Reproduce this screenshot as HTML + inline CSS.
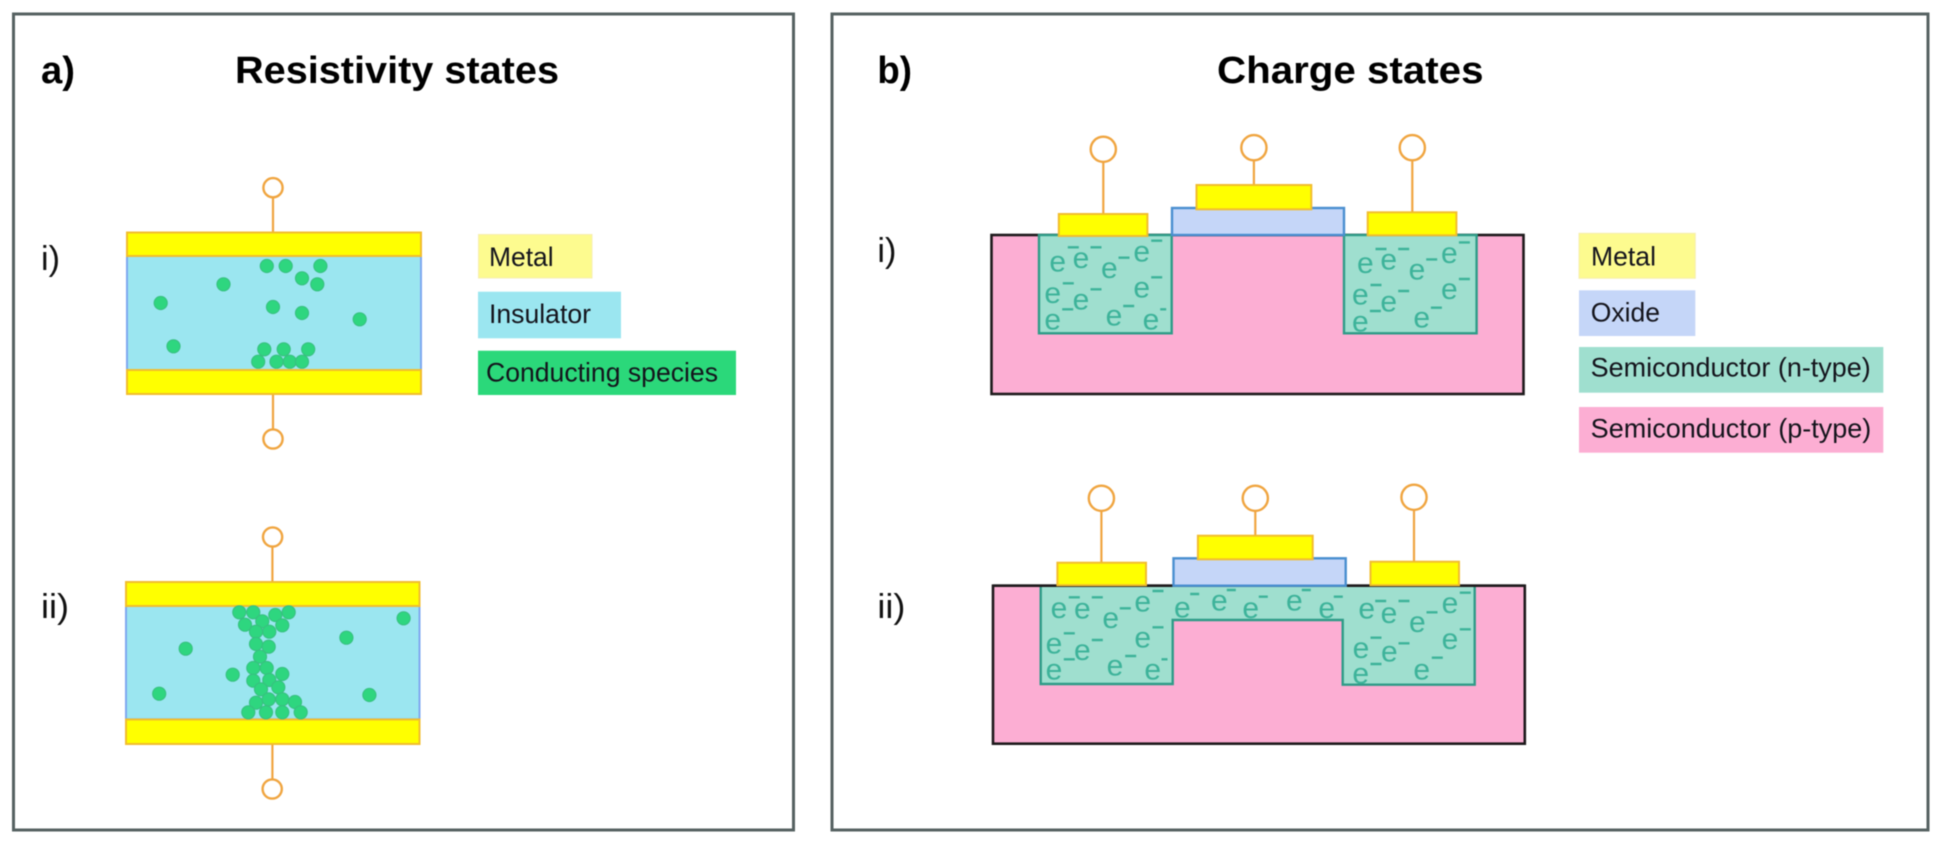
<!DOCTYPE html>
<html><head><meta charset="utf-8"><style>
html,body{margin:0;padding:0;background:#fff;width:1940px;height:844px;overflow:hidden}
svg{display:block;filter:blur(.6px)}
text{font-family:"Liberation Sans",sans-serif}
.h{font-weight:bold;font-size:38px;fill:#000}
.r{font-size:34px;fill:#111}
.l{font-size:26.5px;fill:#14141c}
.m{fill:#ffff00;stroke:#f2bd2e;stroke-width:2}
.w{fill:#fff;stroke:#f0a540;stroke-width:2.4}
.wl{stroke:#f0a540;stroke-width:2.2;fill:none}
.d circle{fill:#2ed67f;stroke:#38bf80;stroke-width:1}
.e{font-size:30px;fill:#3db39a;text-anchor:middle}
.dd{stroke:#3db39a;stroke-width:2.4;fill:none}
.n{fill:#9fdfcf;stroke:#2f9c88;stroke-width:2.4}
.o{fill:#c5d6f8;stroke:#4a8fd0;stroke-width:2.4}
.p{fill:#fcaed3;stroke:#1e1a1c;stroke-width:2.6}
</style></head><body>
<svg width="1940" height="844" viewBox="0 0 1940 844" xmlns="http://www.w3.org/2000/svg">
<rect width="1940" height="844" fill="#fff"/>
<rect x="13.5" y="14" width="780" height="816" fill="#fff" stroke="#566262" stroke-width="3"/>
<rect x="832" y="14" width="1096" height="816" fill="#fff" stroke="#566262" stroke-width="3"/>

<text class="h" x="41" y="83" textLength="34" lengthAdjust="spacingAndGlyphs">a)</text>
<text class="h" x="235" y="83" textLength="324" lengthAdjust="spacingAndGlyphs">Resistivity states</text>
<text class="r" x="41" y="270" textLength="19" lengthAdjust="spacingAndGlyphs">i)</text>
<text class="r" x="41" y="618" textLength="28" lengthAdjust="spacingAndGlyphs">ii)</text>

<!-- a-i -->
<path class="wl" d="M273 197V232M273 394V429"/>
<circle class="w" cx="273" cy="187.7" r="9.6"/>
<circle class="w" cx="273" cy="439" r="9.6"/>
<rect x="127" y="256" width="294" height="114" fill="#9be6f0" stroke="#7fa8f0" stroke-width="2"/>
<rect class="m" x="127" y="232.5" width="294" height="23.5"/>
<rect class="m" x="127" y="370" width="294" height="24"/>
<g class="d">
<circle cx="266.8" cy="266" r="6.6"/><circle cx="285.7" cy="266" r="6.6"/><circle cx="320.4" cy="266" r="6.6"/>
<circle cx="302" cy="278.3" r="6.6"/><circle cx="317.3" cy="284.3" r="6.6"/><circle cx="223.5" cy="284.3" r="6.6"/>
<circle cx="160.7" cy="303" r="6.6"/><circle cx="273" cy="307" r="6.6"/><circle cx="302" cy="313" r="6.6"/>
<circle cx="359.7" cy="319.3" r="6.6"/><circle cx="173.5" cy="346.3" r="6.6"/><circle cx="264.3" cy="349.3" r="6.6"/>
<circle cx="283.7" cy="349.3" r="6.6"/><circle cx="308.2" cy="349.3" r="6.6"/><circle cx="258.2" cy="361.7" r="6.6"/>
<circle cx="276.5" cy="361.7" r="6.6"/><circle cx="289.8" cy="361.7" r="6.6"/><circle cx="302" cy="361.7" r="6.6"/>
</g>

<!-- a-i legend -->
<rect x="478.5" y="234.5" width="113.5" height="43.5" fill="#fdfb8f" stroke="#f6eeb0" stroke-width="1"/>
<text class="l" x="489" y="266" textLength="64.6" lengthAdjust="spacingAndGlyphs">Metal</text>
<rect x="478" y="291.7" width="143" height="46.6" fill="#9be6f0"/>
<text class="l" x="489" y="323" textLength="102" lengthAdjust="spacingAndGlyphs">Insulator</text>
<rect x="478" y="350.7" width="258" height="44.3" fill="#2bd87a"/>
<text class="l" x="486" y="381.7" textLength="232" lengthAdjust="spacingAndGlyphs">Conducting species</text>

<!-- a-ii -->
<path class="wl" d="M272.4 547V582M272.4 744V779"/>
<circle class="w" cx="272.6" cy="537" r="9.6"/>
<circle class="w" cx="272.2" cy="789" r="9.6"/>
<rect x="126" y="606" width="293.5" height="113.3" fill="#9be6f0" stroke="#7fa8f0" stroke-width="2"/>
<rect class="m" x="126" y="582" width="293.5" height="24"/>
<rect class="m" x="126" y="719.5" width="293.5" height="24.5"/>
<g class="d">
<circle cx="239.3" cy="612.3" r="6.6"/><circle cx="253.3" cy="612.3" r="6.6"/><circle cx="275.3" cy="615" r="6.6"/>
<circle cx="288.7" cy="612.3" r="6.6"/><circle cx="245" cy="624.7" r="6.6"/><circle cx="262.3" cy="621.3" r="6.6"/>
<circle cx="282.3" cy="625.3" r="6.6"/><circle cx="256" cy="631.7" r="6.6"/><circle cx="269.3" cy="631.7" r="6.6"/>
<circle cx="256" cy="644" r="6.6"/><circle cx="268.7" cy="646.7" r="6.6"/><circle cx="260" cy="656.7" r="6.6"/>
<circle cx="253.3" cy="668" r="6.6"/><circle cx="266.7" cy="668" r="6.6"/><circle cx="232.7" cy="674.7" r="6.6"/>
<circle cx="282.3" cy="674" r="6.6"/><circle cx="253.3" cy="680.7" r="6.6"/><circle cx="269.3" cy="680" r="6.6"/>
<circle cx="278.3" cy="687.3" r="6.6"/><circle cx="261" cy="689.3" r="6.6"/><circle cx="256" cy="702.7" r="6.6"/>
<circle cx="268.7" cy="699.3" r="6.6"/><circle cx="282.3" cy="699.3" r="6.6"/><circle cx="295" cy="702" r="6.6"/>
<circle cx="248.3" cy="712.3" r="6.6"/><circle cx="266" cy="712.3" r="6.6"/><circle cx="282.3" cy="712.3" r="6.6"/>
<circle cx="300.7" cy="712.3" r="6.6"/><circle cx="185.7" cy="648.7" r="6.6"/><circle cx="159.2" cy="693.7" r="6.6"/>
<circle cx="346.4" cy="637.7" r="6.6"/><circle cx="403.6" cy="618.3" r="6.6"/><circle cx="369.4" cy="695" r="6.6"/>
</g>

<!-- b headings -->
<text class="h" x="877.4" y="83" textLength="34.6" lengthAdjust="spacingAndGlyphs">b)</text>
<text class="h" x="1217" y="83" textLength="266.5" lengthAdjust="spacingAndGlyphs">Charge states</text>
<text class="r" x="877.4" y="262" textLength="19" lengthAdjust="spacingAndGlyphs">i)</text>
<text class="r" x="877.4" y="618" textLength="28" lengthAdjust="spacingAndGlyphs">ii)</text>

<!-- b-i -->
<path class="wl" d="M1103.3 162V214M1253.9 160V185M1412.3 160V212"/>
<circle class="w" cx="1103.3" cy="149.3" r="12.6"/>
<circle class="w" cx="1253.9" cy="147.7" r="12.6"/>
<circle class="w" cx="1412.3" cy="147.7" r="12.6"/>
<rect class="p" x="991.5" y="235" width="532" height="159"/>
<rect class="n" x="1039" y="235" width="132.7" height="98.3"/>
<rect class="n" x="1344" y="235" width="132.6" height="98.3"/>
<g transform="translate(0,8)">
<text class="e" x="1057.7 1081 1109.3 1141.7 1052.7 1081 1141.7 1052.7 1114 1151" y="263.3 260 270 253.3 295 301.7 289.3 321.7 317.7 321.7">eeeeeeeeee</text>
<text class="e" x="1365.4 1388.7 1417 1449.4 1360.4 1388.7 1449.4 1360.4 1421.7" y="265 261.7 271.7 255 296.7 303.4 291 323.4 319.4">eeeeeeeee</text>
</g>
<g transform="translate(-5.5,0)">
<path class="dd" d="M1073.3 247.3h11M1096 247.3h11M1124 257.7h11M1156.7 240.7h11M1068.3 283.3h11M1096 289.3h11M1156.7 277.3h11M1067.7 309.3h11M1128.7 306h11M1165.7 309.3h6"/>
<path class="dd" d="M1381 249h11M1403.7 249h11M1431.7 259.4h11M1464.4 242.4h11M1376 285h11M1403.7 291h11M1464.4 279h11M1375.4 311h11M1436.4 307.7h11"/>
</g>
<rect class="o" x="1172" y="208" width="172" height="27"/>
<rect class="m" x="1196.5" y="185" width="114.8" height="24.3"/>
<rect class="m" x="1058.8" y="214" width="88.6" height="22"/>
<rect class="m" x="1367.7" y="212.3" width="88.7" height="23"/>

<!-- b legend -->
<rect x="1579" y="233.3" width="116.3" height="45" fill="#fdfb8f" stroke="#f6eeb0" stroke-width="1"/>
<text class="l" x="1591" y="265.3" textLength="65" lengthAdjust="spacingAndGlyphs">Metal</text>
<rect x="1579" y="290.3" width="116.3" height="45.7" fill="#c5d6f8"/>
<text class="l" x="1590.7" y="321.7" textLength="69.3" lengthAdjust="spacingAndGlyphs">Oxide</text>
<rect x="1579" y="347" width="304.3" height="45.7" fill="#9fdfcf"/>
<text class="l" x="1590.7" y="376.7" textLength="280" lengthAdjust="spacingAndGlyphs">Semiconductor (n-type)</text>
<rect x="1579" y="407" width="304.3" height="45.7" fill="#fcaed3"/>
<text class="l" x="1590.7" y="437.3" textLength="280.6" lengthAdjust="spacingAndGlyphs">Semiconductor (p-type)</text>

<!-- b-ii -->
<path class="wl" d="M1101.4 511V563M1255.3 511V536M1414 510V562"/>
<circle class="w" cx="1101.4" cy="498.3" r="12.6"/>
<circle class="w" cx="1255.3" cy="498.3" r="12.6"/>
<circle class="w" cx="1414" cy="497.3" r="12.6"/>
<rect class="p" x="993" y="585.7" width="531.8" height="158"/>
<path class="n" d="M1040.7 585.7V684H1172.7V620H1342.7V684.7H1474.7V585.7Z"/>
<g transform="translate(0,8)">
<text class="e" x="1059 1082.3 1110.7 1142.7 1182.3 1219.3 1250.7 1294.3 1326.7 1366.7 1389 1417.3 1450 1054 1082.3 1142.7 1054 1115 1152.7 1361 1389.3 1450 1360.7 1421.7" y="610 610.7 620 603.3 609.3 602.7 610 602.3 610 610.7 615 624 605 645.3 652 639.3 671.3 667.7 671.3 650 653.3 641 675.7 671.7">eeeeeeeeeeeeeeeeeeeeeeee</text>
</g>
<g transform="translate(-5.5,0)">
<path class="dd" d="M1074.3 597.3h11M1097.3 597.3h11M1125.3 608.3h11M1158 591h11M1195.7 594h9M1232.3 590h9M1264.3 596.7h9M1307.3 590h9M1339.3 596.7h9M1380.7 601h11M1404 601h11M1432 612.3h11M1465.3 592.7h11M1069.3 633.3h11M1097.3 640h11M1158 627.3h11M1069.3 659.3h11M1130.7 656h11M1167 659.3h6M1376 637.7h11M1404 643.3h11M1465.3 629.3h11M1376 664h11M1437.3 657.7h11"/>
</g>
<path d="M993 585.7H1524.8" stroke="#1e1a1c" stroke-width="2.6"/>
<rect class="o" x="1173.5" y="558.3" width="172.2" height="27.4"/>
<rect class="m" x="1197.9" y="535.7" width="114.8" height="23.6"/>
<rect class="m" x="1057.4" y="562.7" width="88.6" height="22.5"/>
<rect class="m" x="1370.5" y="561.7" width="88.5" height="23.5"/>
</svg>
</body></html>
